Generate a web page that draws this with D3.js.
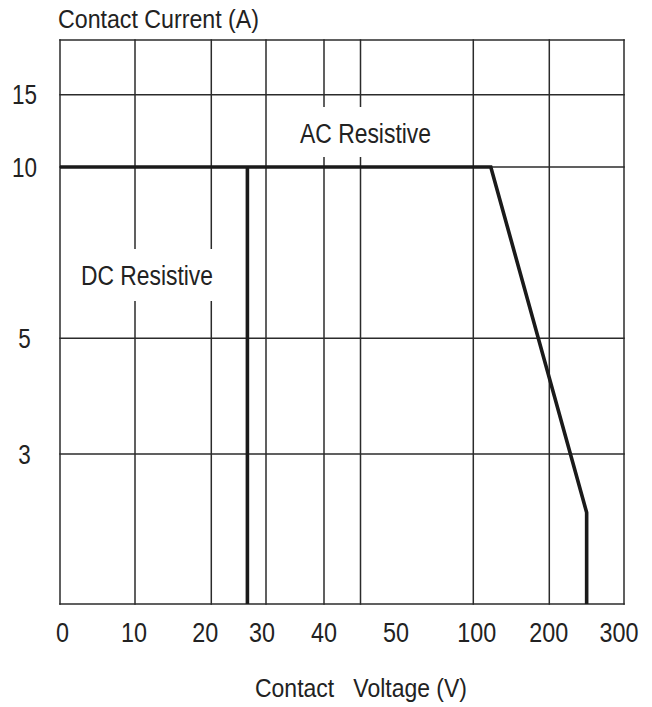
<!DOCTYPE html>
<html>
<head>
<meta charset="utf-8">
<script src="https://cdn.jsdelivr.net/npm/d3@7"></script>
<style>
	body { margin: 0; background: #fff; }
	text { font-family: "Liberation Sans Narrow", "Liberation Sans", Arial, sans-serif; fill: #222; }
</style>
</head>
<body>
<div id="chart"></div>
<script>
// axis ticks
var xTicks = [0, 10, 20, 30, 40, 50, 100, 200, 300];
var yTicks = [3, 5, 10, 15];

// DC resistive limit (voltage V, current A)
var dcVoltage = [26.6, 26.6];
var dcCurrent = [10, 0];

// AC resistive limit
var acVoltage = [0, 123, 250, 250];
var acCurrent = [10, 10, 1.83, 0];

var width = 652,
	height = 707;

// plot box (don't call these top/left, window.top is taken)
var plotL = 60, plotR = 624, plotT = 40, plotB = 604;

// the axes are not uniform in the original, so piecewise scales
var xScale = d3.scaleLinear()
	.domain(xTicks)
	.range([plotL, 135, 211.3, 266, 324, 360.5, 473.3, 549.3, plotR]);

var yScale = d3.scaleLinear()
	.domain([0, 3, 5, 10, 15, 20])
	.range([plotB, 454, 338.3, 167, 94.7, plotT]);

// tick labels sit a bit off their grid lines
var labelNudge = [2.5, -1, -6, -4, 0, 35.5, 3.5, -0.5, -5];

var svg = d3.select("#chart").append("svg")
	.attr("width", width)
	.attr("height", height);

var gridColor = "#2b2b2b";

// vertical grid
svg.append("g").selectAll("line").data(xTicks)
	.enter().append("line")
		.attr("x1", function(d){ return xScale(d); })
		.attr("x2", function(d){ return xScale(d); })
		.attr("y1", plotT - 0.75)
		.attr("y2", plotB + 0.75)
		.attr("stroke", gridColor)
		.attr("stroke-width", 1.5);

// horizontal grid (ticks + frame)
svg.append("g").selectAll("line").data([0].concat(yTicks, [20]))
	.enter().append("line")
		.attr("x1", plotL - 0.75)
		.attr("x2", plotR + 0.75)
		.attr("y1", function(d){ return yScale(d); })
		.attr("y2", function(d){ return yScale(d); })
		.attr("stroke", gridColor)
		.attr("stroke-width", 1.5);

// x tick labels
svg.append("g").selectAll("text").data(xTicks)
	.enter().append("text")
		.attr("x", function(d, i){ return xScale(d) + labelNudge[i]; })
		.attr("y", 642)
		.attr("text-anchor", "middle")
		.attr("font-size", 27)
		.attr("textLength", function(d){ return String(d).length * 13; })
		.attr("lengthAdjust", "spacingAndGlyphs")
		.text(function(d){ return d; });

// y tick labels
svg.append("g").selectAll("text").data(yTicks)
	.enter().append("text")
		.attr("x", 24.5)
		.attr("y", function(d){ return yScale(d) + 9.5; })
		.attr("text-anchor", "middle")
		.attr("font-size", 27)
		.attr("textLength", function(d){ return String(d).length * 12.5; })
		.attr("lengthAdjust", "spacingAndGlyphs")
		.text(function(d){ return d; });

// axis titles
svg.append("text")
	.attr("x", 58)
	.attr("y", 28)
	.attr("font-size", 25)
	.attr("textLength", 201)
	.attr("lengthAdjust", "spacingAndGlyphs")
	.text("Contact Current (A)");

svg.append("text")
	.attr("x", 255)
	.attr("y", 697)
	.attr("font-size", 25)
	.style("white-space", "pre")
	.attr("textLength", 212)
	.attr("lengthAdjust", "spacingAndGlyphs")
	.text("Contact   Voltage (V)");

// curve labels, each on a white patch that breaks the grid
var notes = [
	{ t: "AC Resistive", x: 300, y: 142.7, w: 131, by: 107, bh: 50 },
	{ t: "DC Resistive", x: 81, y: 285, w: 132, by: 249, bh: 52 }
];

svg.append("g").selectAll("rect").data(notes)
	.enter().append("rect")
		.attr("x", function(d){ return d.x - 9; })
		.attr("y", function(d){ return d.by; })
		.attr("width", function(d){ return d.w + 18; })
		.attr("height", function(d){ return d.bh; })
		.attr("fill", "#fff");

svg.append("g").selectAll("text").data(notes)
	.enter().append("text")
		.attr("x", function(d){ return d.x; })
		.attr("y", function(d){ return d.y; })
		.attr("font-size", 27)
		.attr("textLength", function(d){ return d.w; })
		.attr("lengthAdjust", "spacingAndGlyphs")
		.text(function(d){ return d.t; });

// limit curves
var line = d3.line()
	.x(function(d){ return xScale(d[0]); })
	.y(function(d){ return yScale(d[1]); });

var curves = [d3.zip(dcVoltage, dcCurrent), d3.zip(acVoltage, acCurrent)];

svg.append("g").selectAll("path").data(curves)
	.enter().append("path")
		.attr("d", line)
		.attr("fill", "none")
		.attr("stroke", "#1a1a1a")
		.attr("stroke-width", 3.6)
		.attr("stroke-linejoin", "miter");
</script>
</body>
</html>
